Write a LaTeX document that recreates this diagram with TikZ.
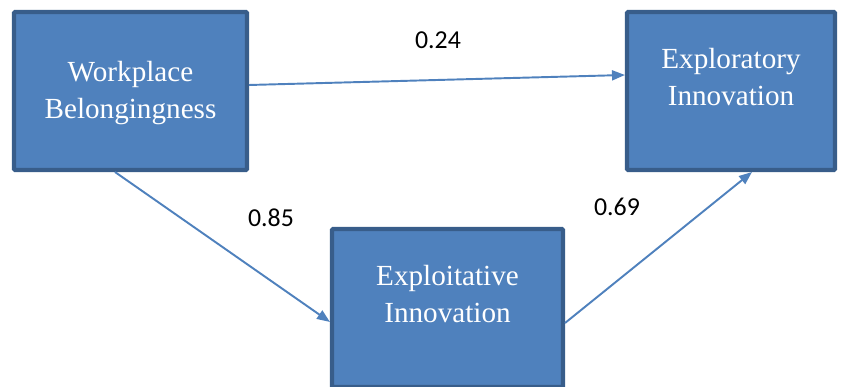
\documentclass[tikz,border=0pt]{standalone}
\usepackage{fontspec}
\setmainfont{Liberation Serif}
\newfontfamily\labelfont{Carlito}
\usepackage{tikz}
\usetikzlibrary{calc, positioning, arrows.meta}
\definecolor{BoxFill}{RGB}{79, 129, 189}
\definecolor{BoxEdge}{RGB}{56, 93, 138}
\definecolor{PathBlue}{RGB}{79, 129, 189}

\tikzset{
    box/.style={draw=BoxEdge, fill=BoxFill, line width=2.3pt, rounded corners=0.5pt,
        minimum height=3.16cm, inner sep=0pt},
    boxtext/.style={text=white, align=center, inner sep=0pt,
        font=\fontsize{16.6}{21}\selectfont},
    path/.style={PathBlue, line width=1.1pt, -{Triangle[length=0.26cm, width=0.2cm]}},
    coef/.style={font=\labelfont\fontsize{14.7}{17}\selectfont, inner sep=0pt}
}

\begin{document}
\begin{tikzpicture}
    \useasboundingbox (0,0) rectangle (17,7.74);
    \clip (0,0) rectangle (17,7.74);

    % Constructos
    \node[box, minimum width=4.66cm] (wb) at (2.61,5.92) {};
    \node[boxtext] (wbtxt) at ([yshift=-0.04cm]wb.center) {Workplace\\Belongingness};

    \node[box, minimum width=4.16cm] (expr) at (14.62,5.92) {};
    \node[boxtext] (exprtxt) at ([yshift=0.28cm]expr.center) {Exploratory\\Innovation};

    \node[box, minimum width=4.62cm] (expt) at (8.95,1.58) {};
    \node[boxtext] (expttxt) at ([yshift=0.28cm]expt.center) {Exploitative\\Innovation};

    % Relaciones
    \draw[path] ([yshift=0.12cm]wb.east) -- ([yshift=0.32cm]expr.west);
    \draw[path] ([xshift=-0.31cm]wb.south) -- ([yshift=-0.28cm]expt.west);
    \draw[path] ([yshift=-0.3cm]expt.east) -- ([xshift=0.42cm]expr.south);

    % Coeficientes
    \node[coef] (c1) at (8.76,6.94) {0.24};
    \node[coef] (c2) at (5.42,3.38) {0.85};
    \node[coef] (c3) at (12.34,3.60) {0.69};
\end{tikzpicture}
\end{document}
